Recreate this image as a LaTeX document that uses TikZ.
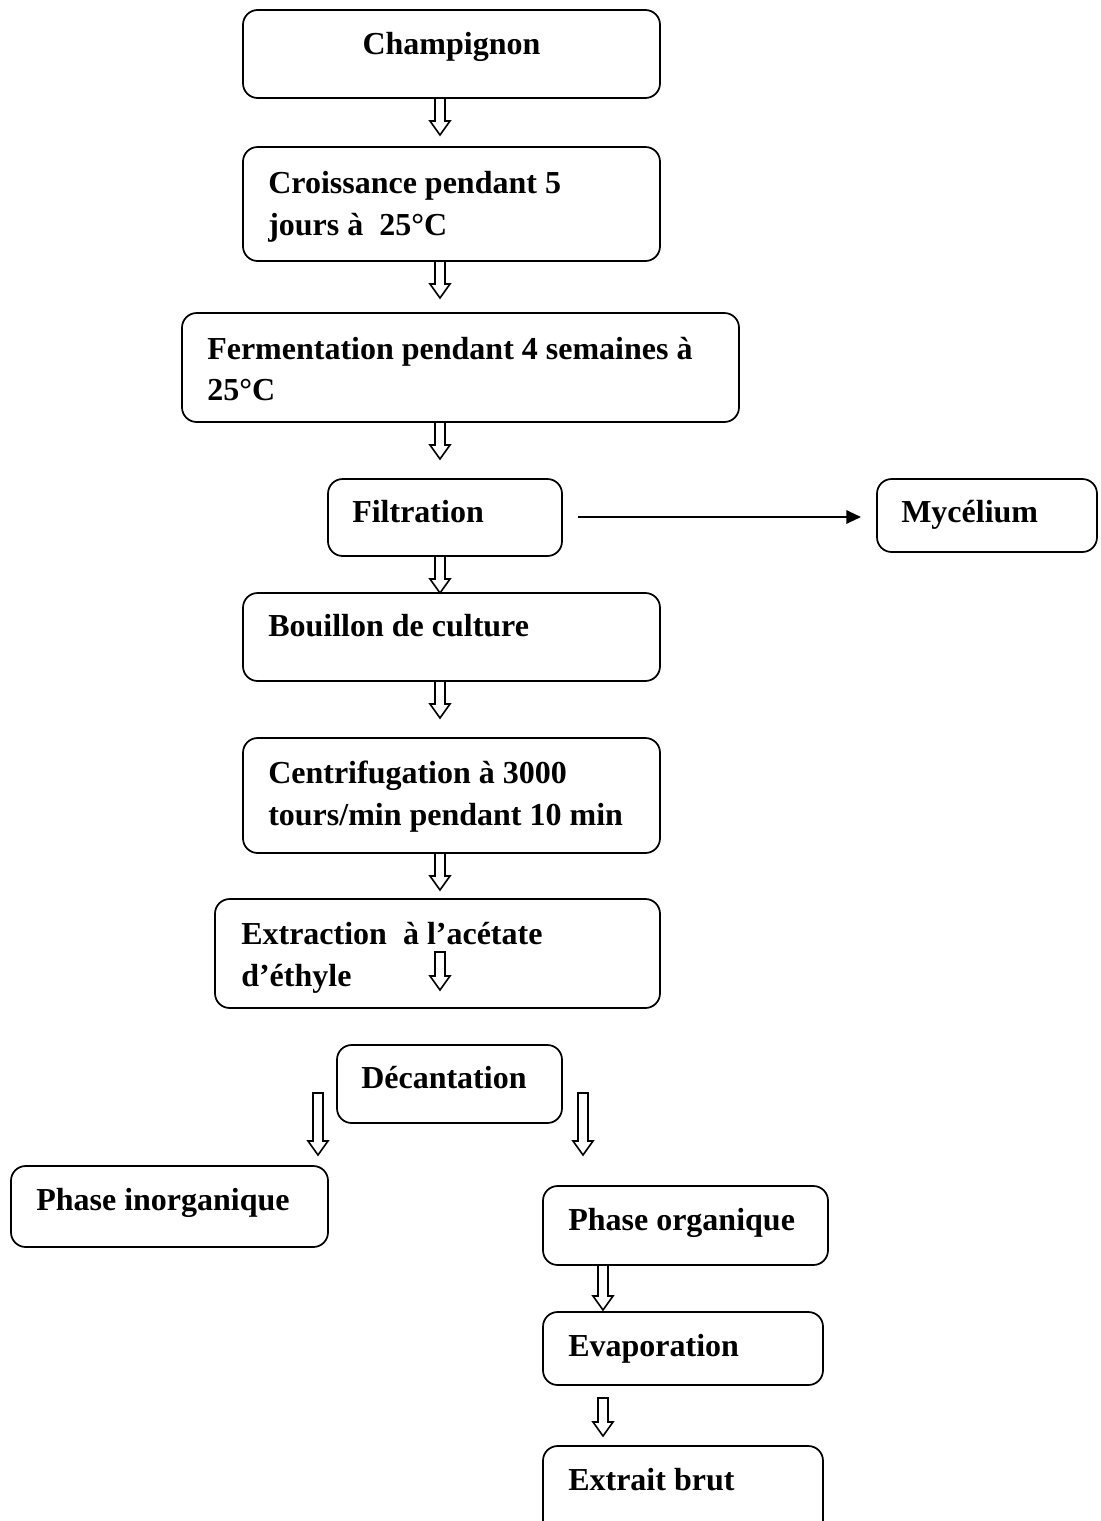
\documentclass[tikz,border=0pt]{standalone}
\usepackage{fontspec}
\setmainfont{Liberation Serif}
\usetikzlibrary{arrows.meta}
\tikzset{
  box/.style={draw, line width=1.3pt, rounded corners=11pt, inner sep=0pt},
  txt/.style={font=\fontsize{24}{31}\selectfont\bfseries, inner sep=0pt, anchor=base west},
  hollow/.style={draw, line width=1.2pt, fill=white, line join=miter},
  link/.style={line width=1.5pt, -{Triangle[length=11pt,width=10pt]}}
}
\newcommand{\harrow}[3]{%
  \draw[hollow] (#1-5,#2) -- (#1+5,#2) -- (#1+5,#3-14) -- (#1+10,#3-14) -- (#1,#3) -- (#1-10,#3-14) -- (#1-5,#3-14) -- cycle;}
\begin{document}
\begin{tikzpicture}[x=0.75pt,y=-0.75pt]
\useasboundingbox (0,0) rectangle (1100,1521);
% boxes
\draw[box] (243,10) rectangle (660,98);
\draw[box] (243,147) rectangle (660,261);
\draw[box] (182,313) rectangle (739,422);
\draw[box] (328,479) rectangle (562,556);
\coordinate (filt) at (562,517);
\draw[box] (877,479) rectangle (1097,552);
\coordinate (myc) at (877,517);
\draw[box] (243,593) rectangle (660,681);
\draw[box] (243,738) rectangle (660,853);
\draw[box] (215,899) rectangle (660,1008);
\draw[box] (337,1045) rectangle (562,1123);
\draw[box] (11,1166) rectangle (328,1247);
\draw[box] (543,1186) rectangle (828,1265);
\draw[box] (543,1312) rectangle (823,1385);
\draw[box] (543,1446) rectangle (823,1540);
% texts
\node[txt, anchor=base] (t1) at (451.5,54) {Champignon};
\node[txt] (t2a) at (268,193) {Croissance pendant 5};
\node[txt] (t2b) at (268,235) {jours à\ \ 25°C};
\node[txt] (t3a) at (207,359) {Fermentation pendant 4 semaines à};
\node[txt] (t3b) at (207,400) {25°C};
\node[txt] (t4) at (352,522) {Filtration};
\node[txt] (t5) at (901,522) {Mycélium};
\node[txt] (t6) at (268,636) {Bouillon de culture};
\node[txt] (t7a) at (268,783) {Centrifugation à 3000};
\node[txt] (t7b) at (268,825) {tours/min pendant 10 min};
\node[txt] (t8a) at (241,944) {Extraction\ \ à l’acétate};
\node[txt] (t8b) at (241,986) {d’éthyle};
\node[txt] (t9) at (361,1088) {Décantation};
\node[txt] (t10) at (36,1210) {Phase inorganique};
\node[txt] (t11) at (568,1230) {Phase organique};
\node[txt] (t12) at (568,1356) {Evaporation};
\node[txt] (t13) at (568,1490) {Extrait brut};
% hollow arrows
\harrow{440}{98}{135}
\harrow{440}{261}{298}
\harrow{440}{422}{459}
\harrow{440}{556}{593}
\harrow{440}{681}{718}
\harrow{440}{853}{890}
\harrow{440}{952}{990}
\harrow{318}{1093}{1155}
\harrow{583}{1093}{1155}
\harrow{603}{1265}{1310}
\harrow{603}{1398}{1436}
% filtration -> mycelium
\draw[link, shorten <=12pt, shorten >=12pt] (filt) -- (myc);
\end{tikzpicture}
\end{document}
